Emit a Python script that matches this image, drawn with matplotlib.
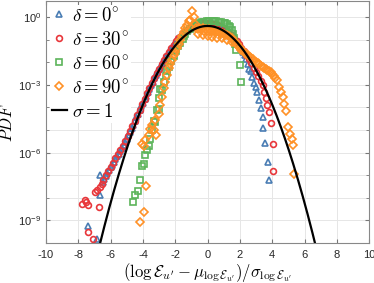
import numpy as np
import matplotlib
matplotlib.use("Agg")
import matplotlib.pyplot as plt
from matplotlib.font_manager import FontProperties
from matplotlib.ticker import FixedLocator, LogFormatterSciNotation, NullFormatter

plt.rcParams['font.family'] = ['Liberation Sans', 'DejaVu Sans']
plt.rcParams['mathtext.fontset'] = 'custom'
plt.rcParams['mathtext.rm'] = 'Liberation Sans'
plt.rcParams['mathtext.it'] = 'Liberation Sans:italic'
plt.rcParams['axes.unicode_minus'] = False

# values: x = normalised log dissipation, log10(PDF)
x_d0 = [-7.39, -6.83, -6.65, -6.65, -6.5, -6.4, -6.3, -6.2, -6.1, -6.0, -5.9, -5.8, -5.7, -5.6, -5.5,
        -5.4, -5.3, -5.2, -5.1, -5.0, -4.9, -4.8, -4.7, -4.6, -4.5, -4.4, -4.3, -4.2, -4.1, -4.0,
        -3.9, -3.8, -3.7, -3.6, -3.5, -3.4, -3.3, -3.2, -3.1, -3.0, -2.9, -2.8, -2.7, -2.6, -2.5,
        -2.4, -2.3, -2.2, -2.1, -2.0, -1.9, -1.8, -1.7, -1.6, -1.5, -1.4, -1.3, -1.2, -1.1, -1.0,
        -0.9, -0.8, -0.7, -0.6, -0.5, -0.4, -0.3, -0.2, -0.1, 0.0, 0.1, 0.2, 0.3, 0.4, 0.5,
        0.6, 0.7, 0.8, 0.9, 1.0, 1.1, 1.2, 1.3, 1.4, 1.5, 1.6, 1.7, 1.8, 1.9, 2.0,
        2.1, 2.2, 2.3, 2.4, 2.5, 2.59, 2.67, 2.78, 2.9, 2.98, 3.09, 3.2, 3.29, 3.4, 3.46,
        3.56, 3.71, 3.81]
lp_d0 = [-9.26, -9.8, -7.89, -7.0, -7.3, -7.18, -7.05, -6.9, -6.78, -6.65, -6.53, -6.4, -6.28, -6.16, -6.04,
         -5.92, -5.8, -5.66, -5.52, -5.38, -5.23, -5.08, -4.92, -4.76, -4.6, -4.44, -4.28, -4.12, -3.96, -3.8,
         -3.64, -3.48, -3.32, -3.17, -3.02, -2.87, -2.72, -2.58, -2.44, -2.3, -2.17, -2.04, -1.91, -1.79, -1.67,
         -1.55, -1.44, -1.33, -1.23, -1.13, -1.04, -0.95, -0.87, -0.8, -0.73, -0.67, -0.61, -0.56, -0.51, -0.47,
         -0.43, -0.4, -0.37, -0.34, -0.32, -0.3, -0.29, -0.28, -0.27, -0.27, -0.27, -0.28, -0.29, -0.3, -0.32,
         -0.35, -0.38, -0.42, -0.46, -0.51, -0.56, -0.62, -0.68, -0.75, -0.83, -0.91, -1.0, -1.09, -1.19, -1.3,
         -1.42, -1.55, -1.7, -1.88, -2.08, -2.3, -2.4, -2.65, -2.93, -3.1, -3.31, -3.68, -4.03, -4.42, -4.93,
         -5.57, -6.41, -7.2]

x_d30 = [-7.77, -7.6, -7.5, -7.42, -7.4, -7.1, -6.96, -6.85, -6.75, -6.65, -6.54,
         -6.45, -6.3, -6.15, -6.0, -5.85, -5.7, -5.55, -5.4, -5.25, -5.1, -4.95, -4.8, -4.65, -4.5,
         -4.35, -4.2, -4.05, -3.9, -3.75, -3.6, -3.45, -3.3, -3.15, -3.0, -2.85, -2.7, -2.55, -2.4,
         -2.25, -2.1, -1.95, -1.8, -1.65, -1.5, -1.35, -1.2, -1.05, -0.9, -0.75, -0.6, -0.45, -0.3,
         -0.15, 0.0, 0.15, 0.3, 0.45, 0.6, 0.75, 0.9, 1.05, 1.2, 1.35, 1.5, 1.65, 1.8, 1.95,
         2.1, 2.25, 2.4, 2.55, 2.7, 2.85, 3.0, 3.15, 3.3, 3.4, 3.5, 3.6, 3.7, 3.81, 3.91,
         4.02, 4.08]
lp_d30 = [-8.25, -8.1, -8.2, -8.3, -9.5, -9.84, -7.74, -7.65, -8.4, -7.5, -7.37,
          -7.2, -7.0, -6.8, -6.62, -6.45, -6.25, -6.05, -5.88, -5.7, -5.5, -5.28, -5.05, -4.82, -4.58,
          -4.34, -4.1, -3.86, -3.62, -3.38, -3.15, -2.93, -2.71, -2.5, -2.29, -2.1, -1.91, -1.72, -1.55,
          -1.38, -1.22, -1.08, -0.95, -0.83, -0.73, -0.64, -0.56, -0.49, -0.43, -0.38, -0.34, -0.31, -0.29,
          -0.28, -0.28, -0.29, -0.31, -0.33, -0.37, -0.42, -0.48, -0.55, -0.63, -0.72, -0.82, -0.94, -1.07, -1.21,
          -1.36, -1.52, -1.68, -1.86, -2.05, -2.24, -2.43, -2.62, -2.85, -3.0, -3.3, -3.6, -3.9, -4.2, -4.68,
          -5.64, -6.81]

x_d60 = [-4.62, -4.47, -4.33, -4.2, -4.06, -3.95, -3.85, -3.75, -3.64, -3.54, -3.45, -3.33, -3.23,
         -3.12, -3.02, -3.02, -2.92, -2.81, -2.71, -2.6, -2.5, -2.4, -2.25, -2.1, -1.95, -1.8, -1.68,
         -1.55, -1.45, -1.37, -1.25, -1.1, -0.95, -0.8, -0.65, -0.5, -0.35, -0.2, -0.05, 0.1, 0.25,
         0.4, 0.55, 0.7, 0.85, 1.0, 1.1, 1.2, 1.3, 1.4, 1.5, 1.58, 1.65, 1.7, 1.75, 2.01, 2.09]
lp_d60 = [-8.19, -7.86, -7.7, -7.2, -6.59, -6.49, -6.12, -5.9, -5.72, -5.38, -5.0, -4.6, -4.64,
          -4.12, -4.05, -3.6, -3.2, -3.24, -2.87, -2.6, -2.4, -2.2, -1.95, -1.72, -1.5, -1.3, -1.15,
          -0.98, -0.85, -0.75, -0.64, -0.53, -0.44, -0.37, -0.31, -0.26, -0.23, -0.21, -0.2, -0.19, -0.19,
          -0.19, -0.2, -0.21, -0.23, -0.26, -0.29, -0.33, -0.38, -0.46, -0.58, -0.74, -0.95, -1.2, -1.45, -2.13, -2.87]

x_d90 = [-4.2, -3.93, -3.79, -4.06, -3.95, -3.85, -3.64, -3.55, -3.43, -3.33, -3.23, -3.17, -3.02,
         -2.92, -2.81, -2.71, -2.61, -2.5, -2.4, -2.3, -2.19, -2.09, -1.99, -1.88, -1.78, -1.68, -1.57,
         -1.47, -1.37, -1.25, -1.15, -1.06, -0.95, -0.87, -0.8,
         -0.7, -0.6, -0.5, -0.4, -0.3, -0.2, -0.1, 0.0, 0.1, 0.2, 0.3, 0.4, 0.5, 0.6, 0.7, 0.8,
         0.9, 1.0, 1.1, 1.2, 1.3, 1.4, 1.5, 1.6, 1.7, 1.8, 1.9,
         -0.6, -0.3, 0.0, 0.3, 0.6, 0.9, 1.2, 1.5,
         2.0, 2.1, 2.2, 2.3, 2.4, 2.5, 2.6, 2.7, 2.8, 2.9, 3.0, 3.1, 3.2, 3.3, 3.4, 3.5, 3.6,
         3.7, 3.8, 3.9, 4.0, 4.1, 4.2, 4.3, 4.43, 4.53, 4.64, 4.74, 4.84, 4.99, 5.09, 5.2, 5.3, 5.36]
lp_d90 = [-9.08, -8.63, -7.47, -5.6, -5.72, -5.45, -5.23, -4.95, -4.79, -5.0, -4.57, -5.23, -4.27,
          -3.9, -3.53, -3.16, -2.87, -2.57, -2.27, -2.08, -1.9, -1.7, -1.54, -1.36, -1.18, -1.02, -0.85,
          -0.68, -0.5, -0.35, -0.2, -0.13, 0.27, 0.01, -0.3,
          -0.5, -0.55, -0.5, -0.55, -0.5, -0.6, -0.55, -0.6, -0.55, -0.6, -0.62, -0.6, -0.65, -0.62, -0.68, -0.7,
          -0.72, -0.75, -0.78, -0.82, -0.85, -0.9, -0.95, -1.02, -1.1, -1.2, -1.3,
          -0.75, -0.8, -0.85, -0.9, -0.92, -0.95, -1.0, -1.1,
          -1.38, -1.45, -1.52, -1.58, -1.64, -1.7, -1.76, -1.82, -1.88, -1.94, -2.0, -2.05, -2.1, -2.15, -2.2, -2.25, -2.3,
          -2.35, -2.4, -2.45, -2.52, -2.6, -2.68, -2.78, -3.09, -3.31, -3.53, -3.83, -4.15, -4.85, -5.16, -5.38, -5.67, -6.93]

fig = plt.figure(figsize=(3.74, 2.83), dpi=100)
ax = fig.add_axes([0.123, 0.141, 0.864, 0.855])

mk = dict(linestyle='none', markersize=4.2, markeredgewidth=1.2, markerfacecolor='none')
ax.plot(x_d0, 10 ** np.array(lp_d0), marker='^', color='#4a7db4', label=r'$\delta = 0^{\circ}$', **mk)
ax.plot(x_d30, 10 ** np.array(lp_d30), marker='o', color='#e8363a', label=r'$\delta = 30^{\circ}$', **mk)
ax.plot(x_d60, 10 ** np.array(lp_d60), marker='s', color='#5cb45a', label=r'$\delta = 60^{\circ}$', **mk)
ax.plot(x_d90, 10 ** np.array(lp_d90), marker='D', color='#ff9126', label=r'$\delta = 90^{\circ}$',
        linestyle='none', markersize=3.8, markeredgewidth=1.2, markerfacecolor='none')

# reference gaussian, sigma = 1
xg = np.linspace(-10, 10, 400)
ax.plot(xg, np.exp(-xg ** 2 / 2) / np.sqrt(2 * np.pi), color='black', lw=1.6, label=r'$\sigma = 1$')

ax.set_yscale('log')
ax.set_xlim(-10, 10)
ax.set_ylim(1e-10, 5)
ax.set_xticks(np.arange(-10, 11, 2))
ax.yaxis.set_major_locator(FixedLocator([1e-9, 1e-6, 1e-3, 1e0]))
ax.yaxis.set_major_formatter(LogFormatterSciNotation())
ax.yaxis.set_minor_locator(FixedLocator([10.0 ** k for k in range(-10, 1)]))
ax.yaxis.set_minor_formatter(NullFormatter())
ax.grid(True, which='both', color='#e6e6e6', lw=0.7)
ax.set_axisbelow(True)
ax.tick_params(which='both', direction='in', top=True, right=True, labelsize=8,
               color='#777777', labelcolor='#262626')
ax.tick_params(axis='x', pad=5)
ax.tick_params(which='major', length=3)
ax.tick_params(which='minor', length=2)
for s in ax.spines.values():
    s.set_color('#888888')
    s.set_linewidth(0.8)

cm = FontProperties(size=12, math_fontfamily='cm')
ax.set_xlabel(r'$(\log\mathcal{E}_{u^{\prime}}-\mu_{\log\mathcal{E}_{u^{\prime}}})/\sigma_{\log\mathcal{E}_{u^{\prime}}}$',
              fontproperties=cm)
ax.xaxis.set_label_coords(0.5, -0.075)
ax.set_ylabel(r'$PDF$', fontproperties=cm)
ax.yaxis.set_label_coords(-0.095, 0.5)

leg = ax.legend(loc='upper left', prop=FontProperties(size=13.5, math_fontfamily='cm'),
                handlelength=0.8, handletextpad=0.3, labelspacing=0.32, borderpad=0.1,
                borderaxespad=0.2, frameon=True, framealpha=1, edgecolor='none', fancybox=False)

fig.savefig('out.png', dpi=100)
